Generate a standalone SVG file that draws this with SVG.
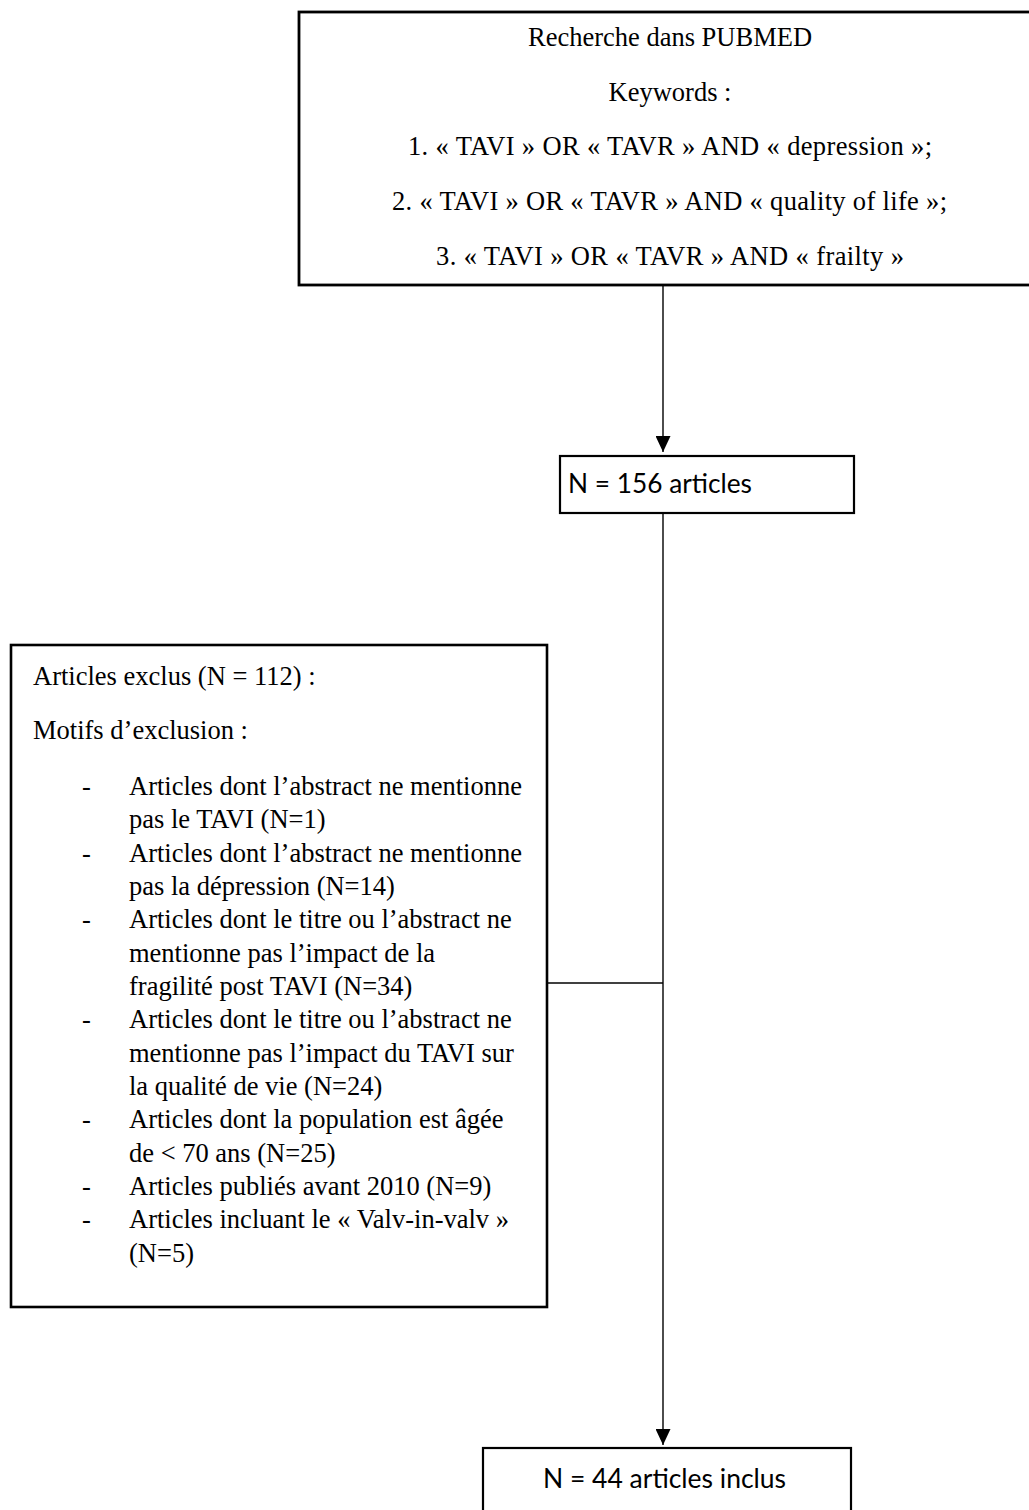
<svg xmlns="http://www.w3.org/2000/svg" width="1029" height="1510" viewBox="0 0 1029 1510">
  <style>
    .box { fill: #ffffff; stroke: #000000; }
    .serif { font-family: "Liberation Serif", "Times New Roman", serif; font-size: 26.5px; fill: #000000; }
    .sans { font-family: Lato, "Liberation Sans", sans-serif; font-size: 27px; fill: #000000; }
    .conn { stroke: #000000; stroke-width: 1.4; fill: none; }
  </style>
  <defs>
    <marker id="arrow" viewBox="0 0 16 15" refX="16" refY="7.5" markerWidth="16" markerHeight="15" markerUnits="userSpaceOnUse" orient="auto">
      <path d="M0,0 L16,7.5 L0,15 z" fill="#000000"/>
    </marker>
  </defs>
  <rect width="1029" height="1510" fill="#ffffff"/>

  <g id="connectors">
    <line class="conn" x1="663" y1="286" x2="663" y2="452" marker-end="url(#arrow)"/>
    <line class="conn" x1="663" y1="514" x2="663" y2="1445" marker-end="url(#arrow)"/>
    <line class="conn" x1="547" y1="983" x2="663" y2="983"/>
  </g>

  <g id="node-search">
    <rect class="box" x="299" y="12" width="760" height="273" stroke-width="2.8"/>
    <text class="serif" x="670" y="46" text-anchor="middle">Recherche dans PUBMED</text>
    <text class="serif" x="670" y="101" text-anchor="middle">Keywords :</text>
    <text class="serif" x="408" y="155" textLength="524" lengthAdjust="spacing">1. « TAVI » OR « TAVR » AND « depression »;</text>
    <text class="serif" x="392" y="210" textLength="555" lengthAdjust="spacing">2. « TAVI » OR « TAVR » AND « quality of life »;</text>
    <text class="serif" x="436" y="265" textLength="468" lengthAdjust="spacing">3. « TAVI » OR « TAVR » AND « frailty »</text>
  </g>

  <g id="node-156">
    <rect class="box" x="560" y="456" width="294" height="57" stroke-width="2.2"/>
    <text class="sans" x="568" y="493" textLength="184" lengthAdjust="spacingAndGlyphs">N = 156 articles</text>
  </g>

  <g id="node-excluded">
    <rect class="box" x="11" y="645" width="536" height="662" stroke-width="2.6"/>
    <text class="serif" x="33" y="685">Articles exclus (N = 112) :</text>
    <text class="serif" x="33" y="739">Motifs d’exclusion :</text>
    <g class="serif">
      <text x="82" y="795">-</text>
      <text x="129" y="795">Articles dont l’abstract ne mentionne</text>
      <text x="129" y="828">pas le TAVI (N=1)</text>
      <text x="82" y="862">-</text>
      <text x="129" y="862">Articles dont l’abstract ne mentionne</text>
      <text x="129" y="895">pas la dépression (N=14)</text>
      <text x="82" y="928">-</text>
      <text x="129" y="928">Articles dont le titre ou l’abstract ne</text>
      <text x="129" y="962">mentionne pas l’impact de la</text>
      <text x="129" y="995">fragilité post TAVI (N=34)</text>
      <text x="82" y="1028">-</text>
      <text x="129" y="1028">Articles dont le titre ou l’abstract ne</text>
      <text x="129" y="1062">mentionne pas l’impact du TAVI sur</text>
      <text x="129" y="1095">la qualité de vie (N=24)</text>
      <text x="82" y="1128">-</text>
      <text x="129" y="1128">Articles dont la population est âgée</text>
      <text x="129" y="1162">de &lt; 70 ans (N=25)</text>
      <text x="82" y="1195">-</text>
      <text x="129" y="1195">Articles publiés avant 2010 (N=9)</text>
      <text x="82" y="1228">-</text>
      <text x="129" y="1228">Articles incluant le « Valv-in-valv »</text>
      <text x="129" y="1262">(N=5)</text>
    </g>
  </g>

  <g id="node-included">
    <rect class="box" x="483" y="1448" width="368" height="80" stroke-width="2.2"/>
    <text class="sans" x="543" y="1488" textLength="243" lengthAdjust="spacingAndGlyphs">N = 44 articles inclus</text>
  </g>
</svg>
